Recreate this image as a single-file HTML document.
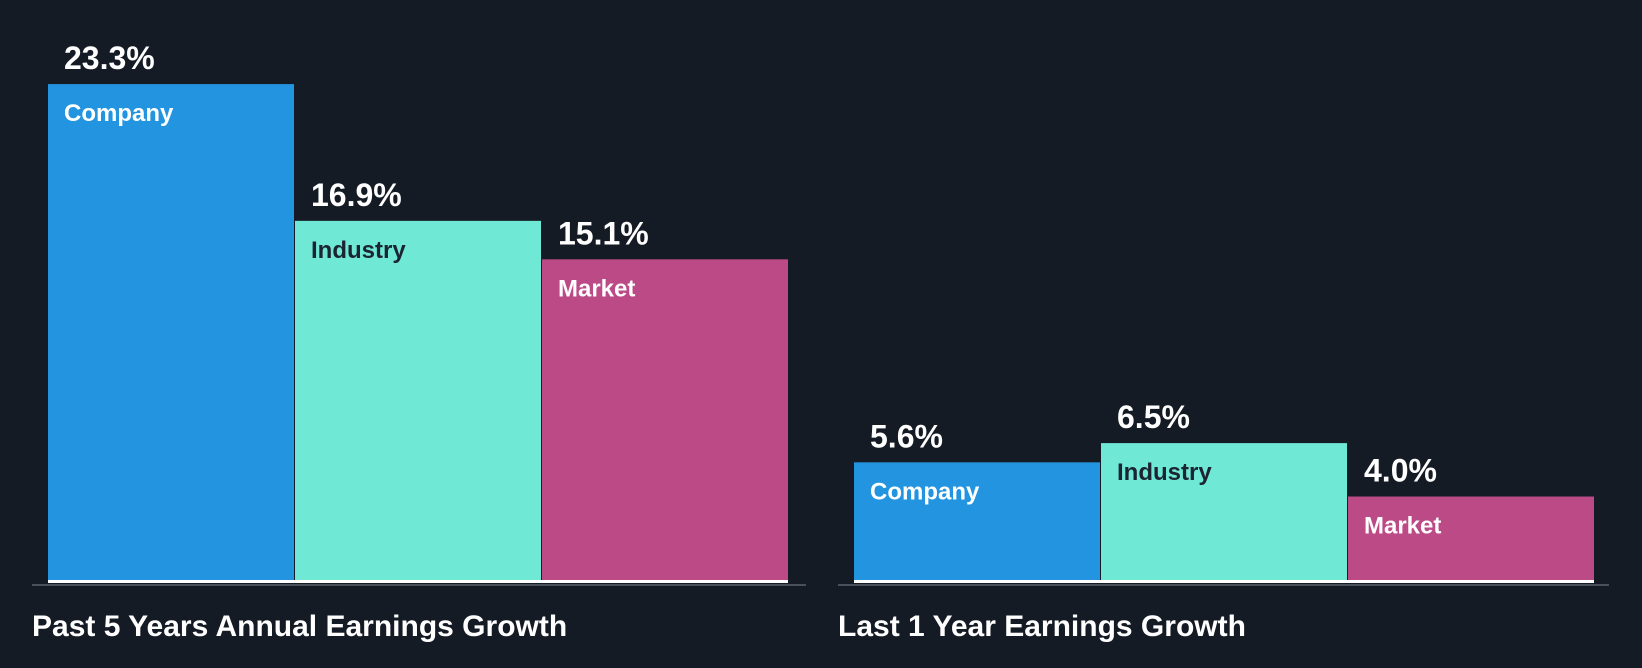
<!DOCTYPE html>
<html><head><meta charset="utf-8"><style>
html,body{margin:0;padding:0;background:#151b24;}
svg{display:block;font-family:"Liberation Sans",sans-serif;font-weight:bold;}
</style></head><body>
<svg id="chart" width="1642" height="668" viewBox="0 0 1642 668">
<rect width="1642" height="668" fill="#151b24"/>
<g id="marks"></g>
</svg>
<script>
const groups = ["Past 5 Years Annual Earnings Growth", "Last 1 Year Earnings Growth"];
const categories = ["Company", "Industry", "Market"];
const past5Values = [23.3, 16.9, 15.1];
const last1Values = [5.6, 6.5, 4.0];
const colors = ["#2394df", "#6fe8d6", "#bb4a86"];
const labelColors = ["#ffffff", "#1b2430", "#ffffff"];

const baseY = 582, pxPerUnit = 21.37;
const y = v => baseY - v * pxPerUnit;
const groupX = [48, 854], barW = 247, axisX = [[32, 806], [838, 1609]];
const svgNS = "http://www.w3.org/2000/svg";
const g = document.getElementById('marks');
function mk(tag, attrs, text){const e=document.createElementNS(svgNS,tag);for(const k in attrs)e.setAttribute(k,attrs[k]);if(text!==undefined)e.textContent=text;g.appendChild(e);return e;}
[past5Values, last1Values].forEach((vals, gi) => {
  vals.forEach((v, i) => {
    const x = groupX[gi] + i * barW;
    const r = mk('rect', {x: x, y: y(v), width: barW - 1, height: baseY - y(v), fill: colors[i]});
    
    
    const t = mk('text', {x: x + 16, y: y(v) - 15, fill: '#ffffff', 'font-size': 32}, v.toFixed(1) + '%');
    
    
    const c = mk('text', {x: x + 16, y: y(v) + 37, fill: labelColors[i], 'font-size': 24}, categories[i]);
    
    
  });
  const wl = mk('rect', {x: groupX[gi], y: baseY - 2, width: barW * 3 - 1, height: 3, fill: '#ffffff'});
  
  
  const ax = mk('rect', {x: axisX[gi][0], y: 584, width: axisX[gi][1] - axisX[gi][0], height: 2, fill: '#4a5058'});
  
  
  const tt = mk('text', {x: axisX[gi][0], y: 636, fill: '#ffffff', 'font-size': 30}, groups[gi]);
  
  
});
</script>
</body></html>
